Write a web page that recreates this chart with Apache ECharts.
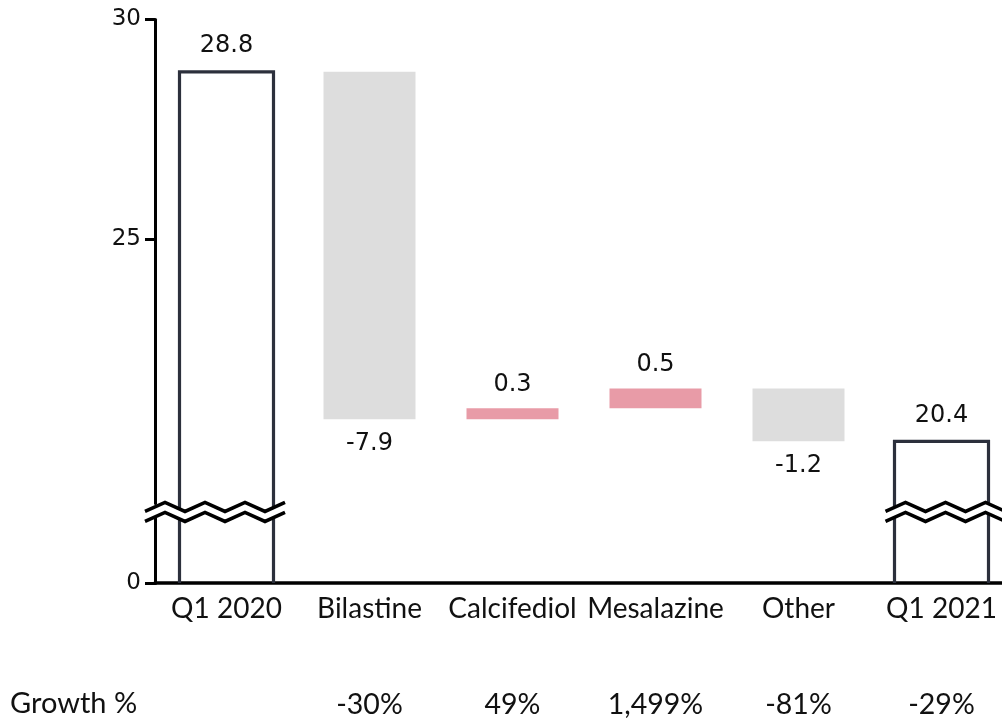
<!DOCTYPE html>
<html><head><meta charset="utf-8">
<script src="https://cdn.jsdelivr.net/npm/echarts@6/dist/echarts.min.js"></script>
<style>html,body{margin:0;padding:0;background:#fff}#c{width:1002px;height:721px}</style>
</head><body><div id="c"></div>
<script>
const categories = ['Q1 2020', 'Bilastine', 'Calcifediol', 'Mesalazine', 'Other', 'Q1 2021'];
const totals = [28.8, null, null, null, null, 20.4];
const changes = [null, -7.9, 0.25, 0.45, -1.2, null];
const valueLabels = ['28.8', '-7.9', '0.3', '0.5', '-1.2', '20.4'];
const growthLabels = ['', '-30%', '49%', '1,499%', '-81%', '-29%'];
const yTicks = [0, 25, 30];
const axisBreak = { start: 1.5, end: 19 };

const GREY = '#dddddd', PINK = '#e89ba7', DARK = '#2c303c';

// build waterfall pieces
let running = totals[0];
const baseData = [], deltaData = [];
categories.forEach((c, i) => {
  if (changes[i] == null) { baseData.push(null); deltaData.push(null); return; }
  const s = running, e = running + changes[i];
  running = e;
  baseData.push(Math.min(s, e));
  const up = changes[i] > 0;
  deltaData.push({
    value: Math.abs(changes[i]),
    itemStyle: { color: up ? PINK : GREY },
    label: { position: up ? 'top' : 'bottom', formatter: valueLabels[i] }
  });
});
const totalData = [];
totals.forEach((v, i) => { if (v != null) totalData.push([i, v, i]); });

function zigzag(x0, x1, yc, step, amp) {
  const pts = [];
  let k = 0;
  for (let x = x0; x <= x1 + 0.01; x += step, k++) pts.push([x, yc + (k % 2 === 0 ? amp : -amp)]);
  return pts;
}

function renderTotal(params, api) {
  const x = api.value(0), v = api.value(1), idx = api.value(2);
  const top = api.coord([x, v]);
  const bot = api.coord([x, 0]);
  const yHi = api.coord([x, axisBreak.end])[1];
  const yLo = api.coord([x, axisBreak.start])[1];
  const yc = (yHi + yLo) / 2 + 2;
  const w = 94;
  const l = top[0] - w / 2, r = top[0] + w / 2;
  const cs = params.coordSys;
  const zl = idx === 0 ? cs.x - 10 : top[0] - 56;
  const zr = top[0] + (idx === 0 ? 59 : 64);
  const upper = zigzag(zl, zr, yc - 5, 20, 4.5);
  const lower = zigzag(zl, zr, yc + 5, 20, 4.5);
  const poly = upper.concat(lower.slice().reverse());
  const lineStyle = { stroke: DARK, lineWidth: 3.2, fill: null };
  return {
    type: 'group',
    children: [
      { type: 'polyline', shape: { points: [[l, yc], [l, top[1]], [r, top[1]], [r, yc]] }, style: lineStyle },
      { type: 'line', shape: { x1: l, y1: yc, x2: l, y2: bot[1] }, style: lineStyle },
      { type: 'line', shape: { x1: r, y1: yc, x2: r, y2: bot[1] }, style: lineStyle },
      { type: 'polygon', shape: { points: poly }, style: { fill: '#fff', stroke: null } },
      { type: 'polyline', shape: { points: upper }, style: { stroke: '#000', lineWidth: 3.5, fill: null } },
      { type: 'polyline', shape: { points: lower }, style: { stroke: '#000', lineWidth: 3.5, fill: null } },
      { type: 'text', x: top[0], y: top[1] - 14, style: { text: valueLabels[idx], font: '24px "DejaVu Sans"', fill: '#111', align: 'center', verticalAlign: 'bottom' } }
    ]
  };
}

const chart = echarts.init(document.getElementById('c'), null, { renderer: 'canvas' });
chart.setOption({
  animation: false,
  grid: { left: 155, top: 19, right: -11, height: 564, containLabel: false, outerBoundsMode: 'none' },
  xAxis: [{
    type: 'category', data: categories, position: 'bottom',
    axisLine: { lineStyle: { color: '#000', width: 3.5 } },
    axisTick: { show: false },
    axisLabel: { interval: 0, color: '#111', fontFamily: 'Lato', fontSize: 28, margin: 26, verticalAlign: 'middle' }
  }, {
    type: 'category', data: growthLabels, position: 'bottom', offset: 122,
    axisLine: { show: false }, axisTick: { show: false },
    axisLabel: { interval: 0, color: '#111', fontFamily: 'Lato', fontSize: 28.5, margin: 0, verticalAlign: 'middle' }
  }],
  yAxis: {
    type: 'value', min: 0, max: 30,
    breaks: [{ start: axisBreak.start, end: axisBreak.end, gap: 0.32 }],
    breakArea: { show: false },
    splitLine: { show: false },
    axisLine: { show: true, lineStyle: { color: '#000', width: 3 } },
    axisTick: { show: true, customValues: yTicks, length: 10, lineStyle: { color: '#000', width: 3 } },
    axisLabel: { customValues: yTicks, color: '#111', fontFamily: 'DejaVu Sans', fontSize: 23, margin: 14 }
  },
  graphic: [{ type: 'text', left: 10, top: 689, style: { text: 'Growth %', font: '29px Lato', fill: '#111' } }],
  series: [
    { type: 'bar', stack: 'w', data: baseData, barWidth: 92, itemStyle: { color: 'transparent' }, silent: true },
    { type: 'bar', stack: 'w', data: deltaData, barWidth: 92,
      label: { show: true, distance: 12, color: '#111', fontFamily: 'DejaVu Sans', fontSize: 24 } },
    { type: 'custom', data: totalData, renderItem: renderTotal, z: 5, clip: false }
  ]
});
</script></body></html>
